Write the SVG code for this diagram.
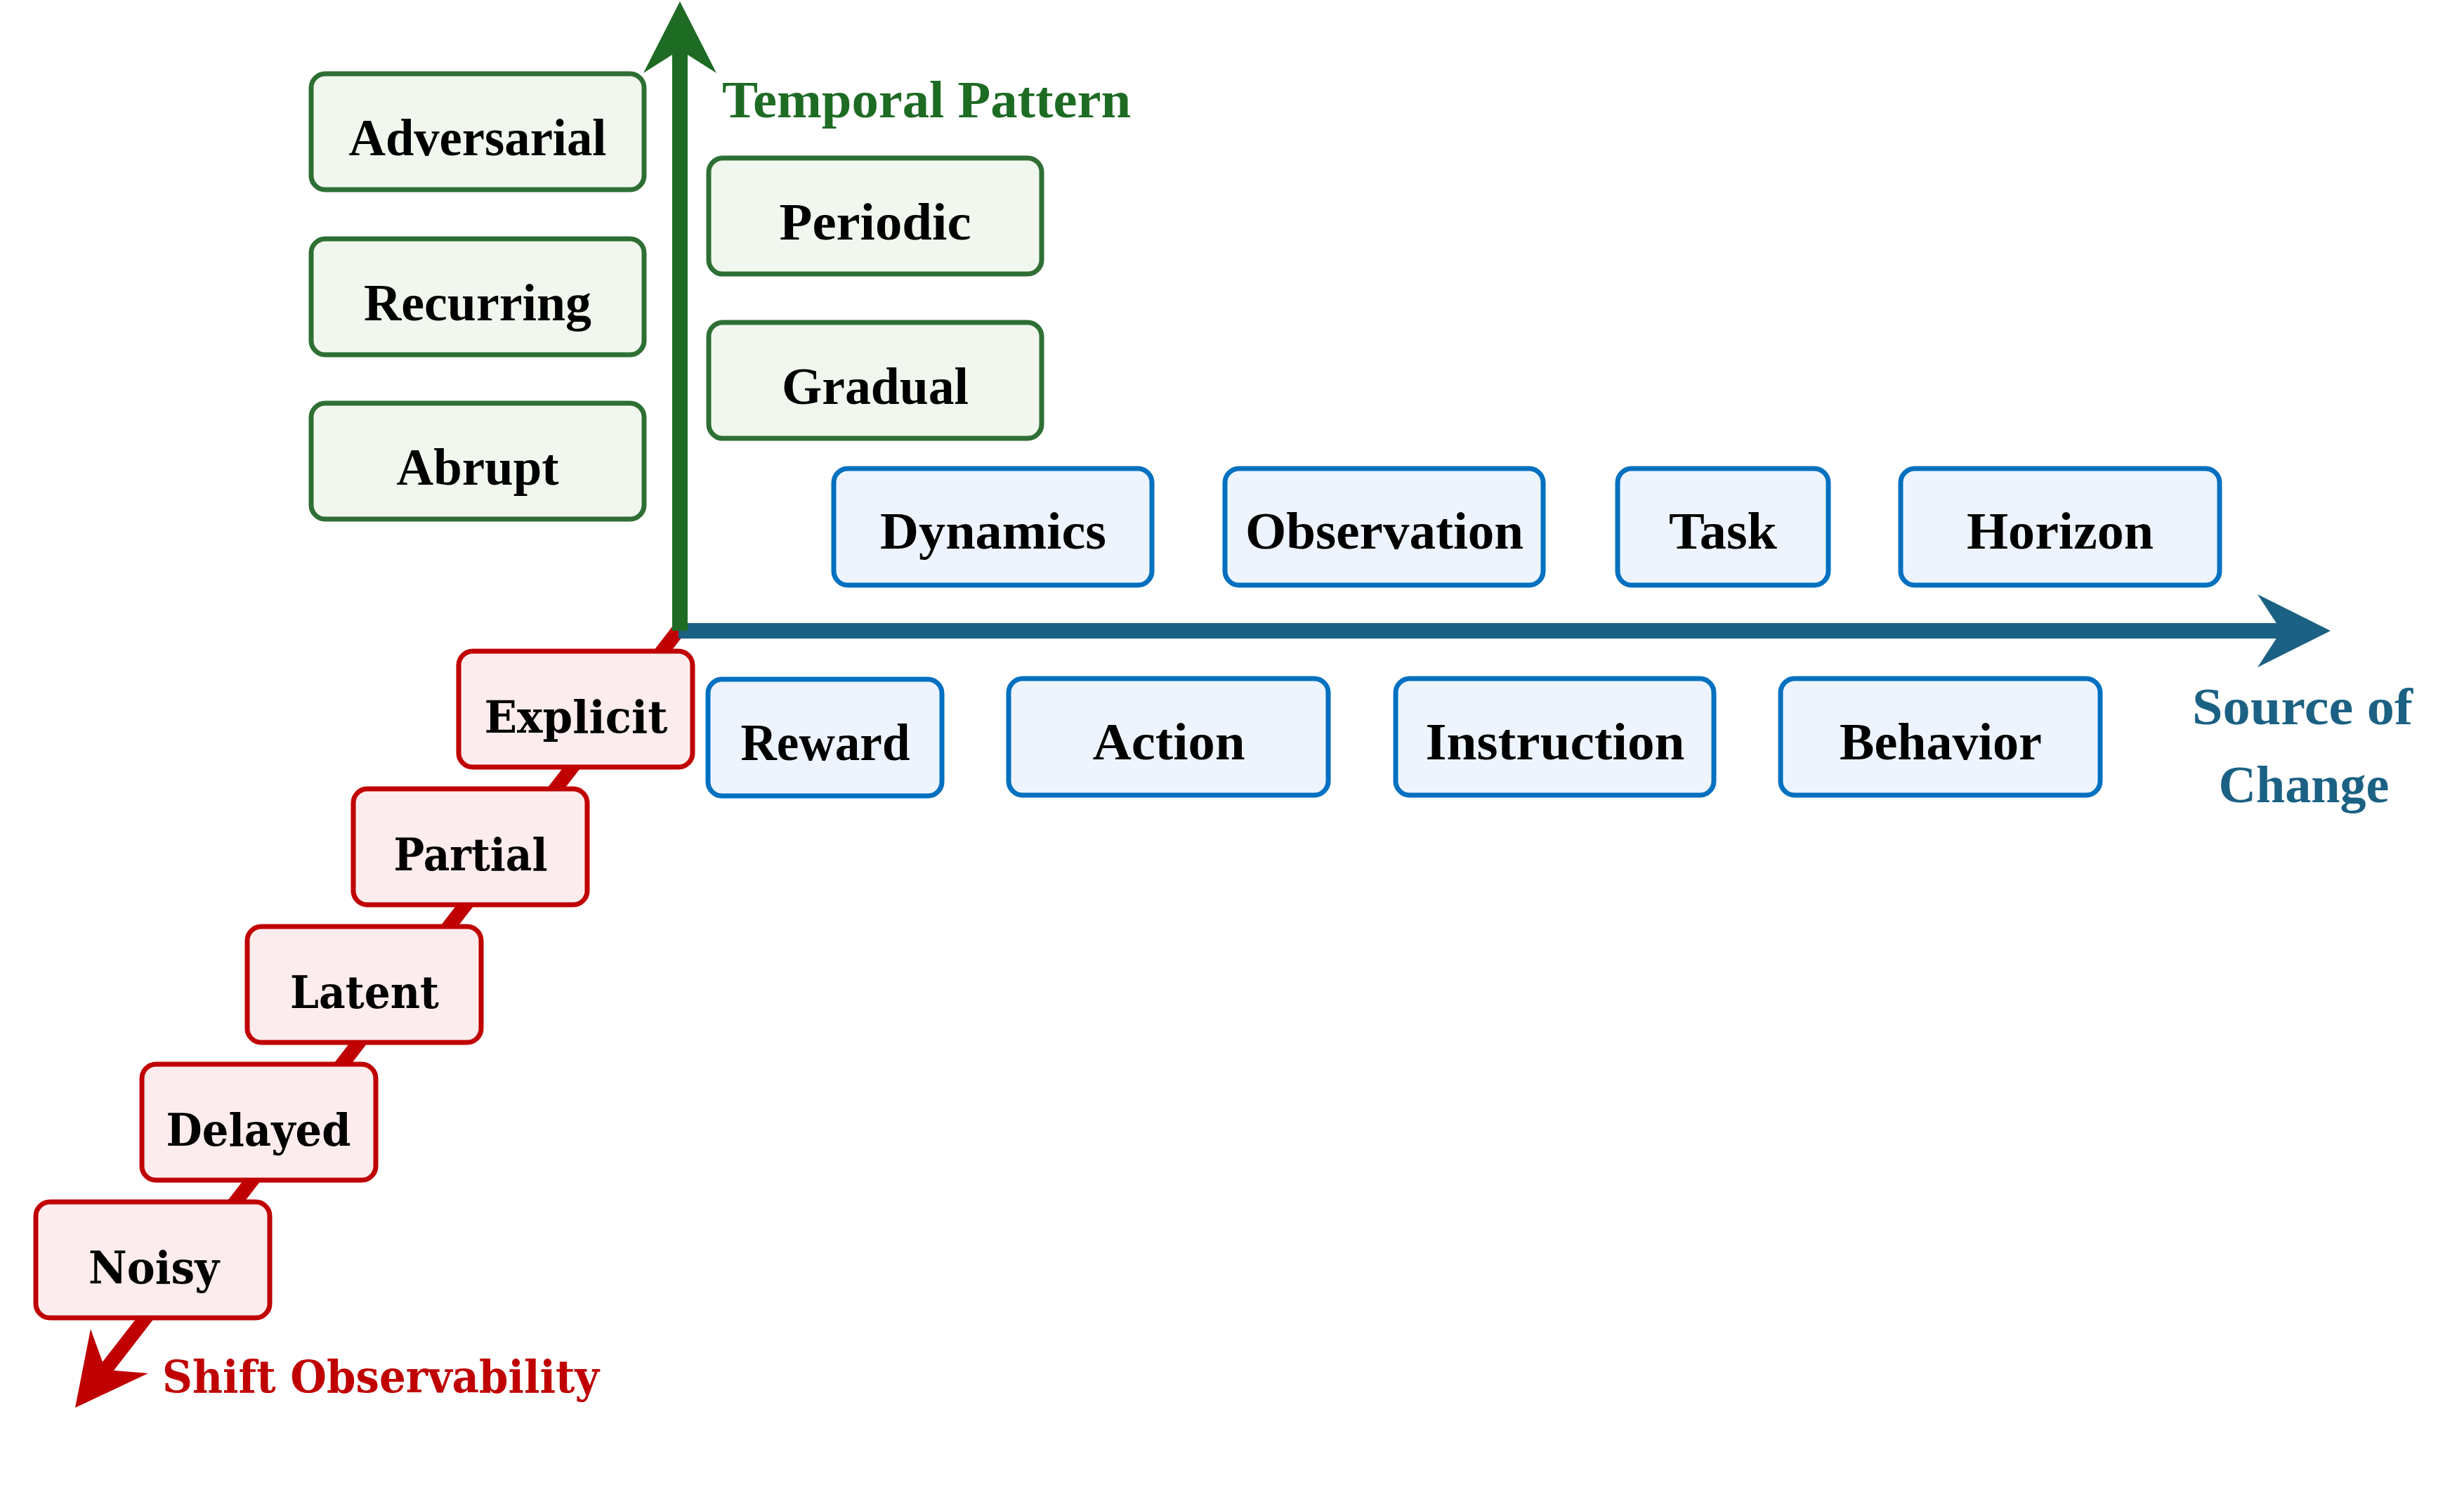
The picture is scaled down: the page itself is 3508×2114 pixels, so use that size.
<svg xmlns="http://www.w3.org/2000/svg" width="3508" height="2114" viewBox="0 0 3508 2114">
<style>
.g rect{fill:#f1f7ee;stroke:#2e6f34;stroke-width:7}
.b rect{fill:#edf4fd;stroke:#0070c0;stroke-width:7}
.r rect{fill:#fdeced;stroke:#c00000;stroke-width:7}
.t{font-family:"Liberation Serif","Times New Roman",serif;font-weight:bold;font-size:74px;fill:#000;text-anchor:middle}
.tr{font-family:"DejaVu Serif","Liberation Serif",serif;font-weight:bold;font-size:64px;fill:#000;text-anchor:middle}
.ax{font-family:"Liberation Serif","Times New Roman",serif;font-weight:bold;font-size:74px}
</style>
<rect width="3508" height="2114" fill="#fff"/>
<g id="connectors">
  <line x1="966" y1="897" x2="150" y2="1950" stroke="#c00000" stroke-width="20"/>
  <polygon points="107,2004 129,1892 150,1950 211,1955" fill="#c00000"/>
  <line x1="966" y1="898" x2="3250" y2="898" stroke="#1b6183" stroke-width="22"/>
  <polygon points="3318,898 3214,846 3248,898 3214,950" fill="#1b6183"/>
  <line x1="968" y1="898" x2="968" y2="70" stroke="#1e6b24" stroke-width="22"/>
  <polygon points="968,2 1020,104 968,71 916,104" fill="#1e6b24"/>
</g>
<g id="axis-labels">
  <text class="ax" x="1028" y="167" fill="#1e6b24" textLength="582" lengthAdjust="spacingAndGlyphs">Temporal Pattern</text>
  <text class="ax" x="3278" y="1031" fill="#1b6183" text-anchor="middle" textLength="314" lengthAdjust="spacingAndGlyphs">Source of</text>
  <text class="ax" x="3280" y="1142" fill="#1b6183" text-anchor="middle" textLength="243" lengthAdjust="spacingAndGlyphs">Change</text>
  <text x="231" y="1982" fill="#c00000" font-family="DejaVu Serif, Liberation Serif, serif" font-weight="bold" font-size="64" textLength="622" lengthAdjust="spacingAndGlyphs">Shift Observability</text>
</g>
<g id="adversarial" class="g"><rect x="443" y="105" width="474" height="165" rx="20"/><text class="t" x="680" y="221" textLength="367" lengthAdjust="spacingAndGlyphs">Adversarial</text></g>
<g id="recurring" class="g"><rect x="443" y="340" width="474" height="165" rx="20"/><text class="t" x="680" y="456" textLength="324" lengthAdjust="spacingAndGlyphs">Recurring</text></g>
<g id="abrupt" class="g"><rect x="443" y="574" width="474" height="165" rx="20"/><text class="t" x="680" y="690" textLength="231" lengthAdjust="spacingAndGlyphs">Abrupt</text></g>
<g id="periodic" class="g"><rect x="1009" y="225" width="474" height="165" rx="20"/><text class="t" x="1246" y="341" textLength="273" lengthAdjust="spacingAndGlyphs">Periodic</text></g>
<g id="gradual" class="g"><rect x="1009" y="459" width="474" height="165" rx="20"/><text class="t" x="1246" y="575" textLength="266" lengthAdjust="spacingAndGlyphs">Gradual</text></g>
<g id="dynamics" class="b"><rect x="1187" y="667" width="453" height="166" rx="20"/><text class="t" x="1414" y="781" textLength="322" lengthAdjust="spacingAndGlyphs">Dynamics</text></g>
<g id="observation" class="b"><rect x="1744" y="667" width="453" height="166" rx="20"/><text class="t" x="1971" y="781" textLength="396" lengthAdjust="spacingAndGlyphs">Observation</text></g>
<g id="task" class="b"><rect x="2303" y="667" width="300" height="166" rx="20"/><text class="t" x="2453" y="781" textLength="154" lengthAdjust="spacingAndGlyphs">Task</text></g>
<g id="horizon" class="b"><rect x="2706" y="667" width="454" height="166" rx="20"/><text class="t" x="2933" y="781" textLength="266" lengthAdjust="spacingAndGlyphs">Horizon</text></g>
<g id="reward" class="b"><rect x="1008" y="967" width="333" height="166" rx="20"/><text class="t" x="1175" y="1082" textLength="241" lengthAdjust="spacingAndGlyphs">Reward</text></g>
<g id="action" class="b"><rect x="1436" y="966" width="455" height="166" rx="20"/><text class="t" x="1664" y="1081" textLength="217" lengthAdjust="spacingAndGlyphs">Action</text></g>
<g id="instruction" class="b"><rect x="1987" y="966" width="453" height="166" rx="20"/><text class="t" x="2214" y="1081" textLength="369" lengthAdjust="spacingAndGlyphs">Instruction</text></g>
<g id="behavior" class="b"><rect x="2535" y="966" width="455" height="166" rx="20"/><text class="t" x="2763" y="1081" textLength="288" lengthAdjust="spacingAndGlyphs">Behavior</text></g>
<g id="explicit" class="r"><rect x="653" y="927" width="333" height="165" rx="20"/><text class="tr" x="820" y="1043" textLength="261" lengthAdjust="spacingAndGlyphs">Explicit</text></g>
<g id="partial" class="r"><rect x="503" y="1123" width="333" height="165" rx="20"/><text class="tr" x="670" y="1239" textLength="219" lengthAdjust="spacingAndGlyphs">Partial</text></g>
<g id="latent" class="r"><rect x="352" y="1319" width="333" height="165" rx="20"/><text class="tr" x="519" y="1435" textLength="212" lengthAdjust="spacingAndGlyphs">Latent</text></g>
<g id="delayed" class="r"><rect x="202" y="1515" width="333" height="165" rx="20"/><text class="tr" x="368" y="1631" textLength="263" lengthAdjust="spacingAndGlyphs">Delayed</text></g>
<g id="noisy" class="r"><rect x="51" y="1711" width="333" height="165" rx="20"/><text class="tr" x="219" y="1827" textLength="186" lengthAdjust="spacingAndGlyphs">Noisy</text></g>
</svg>
